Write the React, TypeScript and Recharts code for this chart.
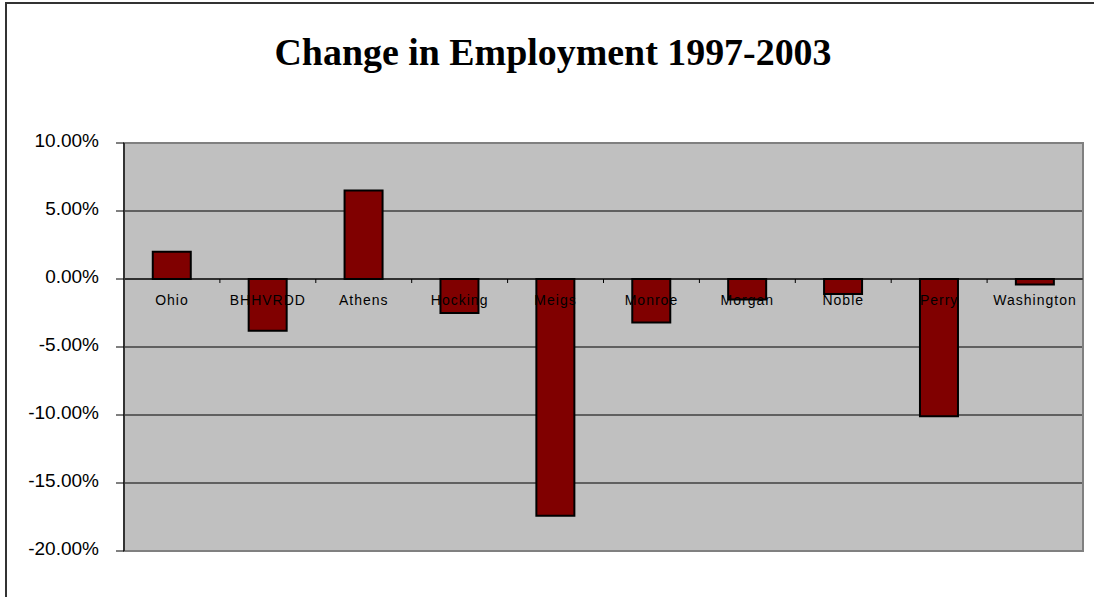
import { BarChart, Bar, XAxis, YAxis, CartesianGrid, ReferenceLine, ReferenceArea } from 'recharts';

const counties = ['Ohio', 'BHHVRDD', 'Athens', 'Hocking', 'Meigs', 'Monroe', 'Morgan', 'Noble', 'Perry', 'Washington'];
const change = [2.0, -3.8, 6.5, -2.5, -17.4, -3.2, -1.5, -1.1, -10.1, -0.4];
const yTicks = [10, 5, 0, -5, -10, -15, -20];

const data = counties.map((name, i) => ({ name, change: change[i] }));

const W = 1094;
const H = 597;
const plotLeft = 124;
const plotTop = 143;
const plotRight = 1083;
const plotBottom = 551;
const plotH = plotBottom - plotTop;
const band = (plotRight - plotLeft) / counties.length;
const yMin = -20;
const yMax = 10;
// distance from the bottom axis up to the zero line
const zeroOffset = (plotH * (0 - yMin)) / (yMax - yMin);

const font = '"Liberation Sans", Arial, sans-serif';

function CategoryTick(props: any) {
    const { x, y, payload, index } = props;
    const zeroY = y - zeroOffset;
    return (
        <g>
            <text
                x={x}
                y={zeroY + 26}
                textAnchor="middle"
                fontFamily={font}
                fontSize={14}
                letterSpacing={1}
                fill="#000"
            >
                {payload.value}
            </text>
            {index < counties.length - 1 && (
                <line x1={x + band / 2} x2={x + band / 2} y1={zeroY} y2={zeroY + 4} stroke="#000" />
            )}
        </g>
    );
}

function PercentTick(props: any) {
    const { x, y, payload } = props;
    return (
        <text x={x} y={y - 3} dy="0.36em" textAnchor="end" fontFamily={font} fontSize={19} fill="#000">
            {payload.value.toFixed(2) + '%'}
        </text>
    );
}

export default function App() {
    return (
        <div style={{ position: 'fixed', left: 0, top: 0, width: W, height: H, overflow: 'hidden', background: '#fff' }}>
            <div style={{ position: 'absolute', left: 0, top: 0 }}>
                <BarChart
                    width={W}
                    height={H}
                    data={data}
                    barCategoryGap="30%"
                    margin={{ top: plotTop, right: W - plotRight, left: 24, bottom: H - plotBottom - 20 }}
                >
                    <CartesianGrid vertical={false} stroke="#000" fill="#C0C0C0" fillOpacity={1} />
                    <ReferenceArea y1={yMin} y2={yMax} fill="none" stroke="#808080" strokeWidth={2} />
                    <XAxis
                        dataKey="name"
                        height={20}
                        axisLine={false}
                        tickLine={false}
                        tickSize={0}
                        tickMargin={0}
                        interval={0}
                        tick={<CategoryTick />}
                    />
                    <YAxis
                        width={100}
                        domain={[yMin, yMax]}
                        ticks={yTicks}
                        interval={0}
                        axisLine={{ stroke: '#333', strokeWidth: 2 }}
                        tickLine={{ stroke: '#000' }}
                        tickSize={8}
                        tickMargin={17}
                        tick={<PercentTick />}
                    />
                    <ReferenceLine y={0} stroke="#000" />
                    <Bar dataKey="change" fill="#800000" stroke="#000" strokeWidth={2} isAnimationActive={false} />
                </BarChart>
            </div>
            <svg
                width={W}
                height={H}
                style={{ position: 'absolute', left: 0, top: 0, pointerEvents: 'none' }}
            >
                <line x1={6} y1={3} x2={6} y2={H} stroke="#333" strokeWidth={2} />
                <line x1={5} y1={3} x2={W} y2={3} stroke="#333" strokeWidth={2} />
                <text
                    x={553}
                    y={65}
                    textAnchor="middle"
                    fontFamily='"Liberation Serif", "Times New Roman", serif'
                    fontWeight="bold"
                    fontSize={38}
                    textLength={557}
                    lengthAdjust="spacingAndGlyphs"
                    fill="#000"
                >
                    Change in Employment 1997-2003
                </text>
            </svg>
        </div>
    );
}
